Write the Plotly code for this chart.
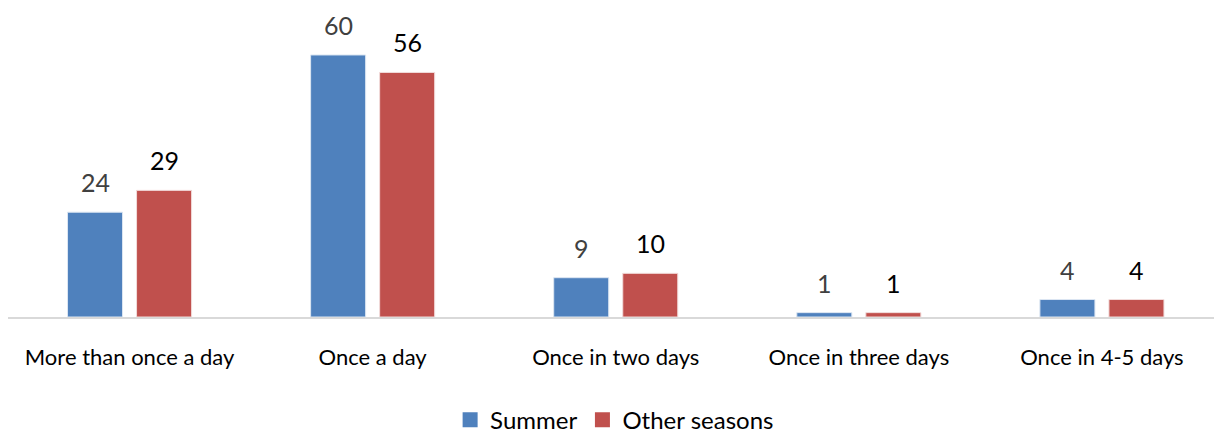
import plotly.graph_objects as go

categories = ["More than once a day", "Once a day", "Once in two days",
              "Once in three days", "Once in 4-5 days"]
summer = [24, 60, 9, 1, 4]
other_seasons = [29, 56, 10, 1, 4]
series_names = ["Summer", "Other seasons"]

BLUE = "#4F81BD"
RED = "#C0504D"
FONT = "Lato"

fig = go.Figure()
fig.add_trace(go.Bar(name=series_names[0], x=categories, y=summer, showlegend=False,
                     marker=dict(color=BLUE, line=dict(color="#DCE6F2", width=1))))
fig.add_trace(go.Bar(name=series_names[1], x=categories, y=other_seasons, showlegend=False,
                     marker=dict(color=RED, line=dict(color="#F2DCDB", width=1))))

# legend entries with larger square swatches
for name, color in zip(series_names, [BLUE, RED]):
    fig.add_trace(go.Scatter(name=name, x=[None], y=[None], mode="markers",
                             marker=dict(symbol="square", size=15, color=color)))

# value labels above each bar
for i, cat in enumerate(categories):
    fig.add_annotation(x=cat, y=summer[i], text=str(summer[i]), showarrow=False,
                       xshift=-34.5, yshift=13, yanchor="bottom",
                       font=dict(family=FONT, size=25, color="#404040"))
    fig.add_annotation(x=cat, y=other_seasons[i], text=str(other_seasons[i]), showarrow=False,
                       xshift=34.5, yshift=13, yanchor="bottom",
                       font=dict(family=FONT, size=25, color="#000000"))

fig.update_layout(
    width=1214, height=434,
    margin=dict(l=8, r=0, t=10, b=117),
    paper_bgcolor="white", plot_bgcolor="white",
    barmode="group", bargap=0.432, bargroupgap=0.203,
    font=dict(family=FONT, size=22, color="#000000"),
    showlegend=True,
    legend=dict(orientation="h", x=0.503, xanchor="center",
                yref="container", y=0.032, yanchor="middle",
                font=dict(family=FONT, size=24, color="#000000"),
                itemwidth=30, traceorder="normal", tracegroupgap=0),
)
fig.update_xaxes(range=[-0.5, 4.461], showline=True, linecolor="#D9D9D9", linewidth=2,
                 ticks="", showgrid=False, ticklabelstandoff=20, automargin=False,
                 tickfont=dict(family=FONT, size=22, color="#000000"))
fig.update_yaxes(range=[0, 70.3], visible=False, showgrid=False, zeroline=False)

fig.write_html("out.html")
